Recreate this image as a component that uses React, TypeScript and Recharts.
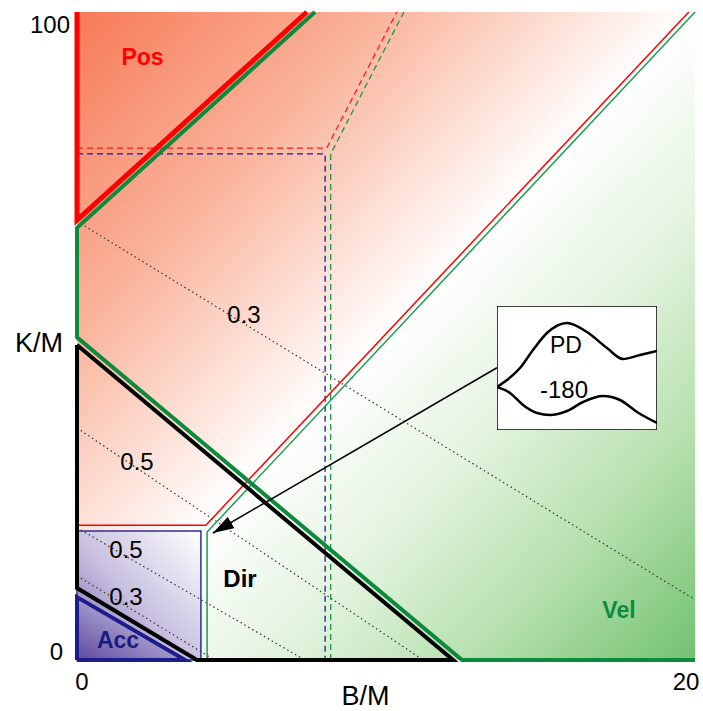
import { Area, ComposedChart, Line, LineChart, ReferenceArea, XAxis, YAxis } from "recharts";

// region boundaries, B/M on x, K/M on y
const redThick = [{ x: 0, y: 100 }, { x: 0, y: 67.9 }, { x: 7.44, y: 100 }];
const greenThick = [{ x: 7.7, y: 100 }, { x: 0, y: 66.7 }, { x: 0, y: 49.8 }, { x: 12.46, y: 0 }, { x: 20, y: 0 }];
const blackThick = [{ x: 0, y: 48.6 }, { x: 0, y: 11.1 }, { x: 3.88, y: 0 }, { x: 12.17, y: 0 }, { x: 0, y: 48.6 }];
const redThin = [{ x: 0, y: 20.8 }, { x: 4.17, y: 20.8 }, { x: 19.8, y: 100 }];
const greenThin = [{ x: 4.21, y: 0 }, { x: 4.21, y: 19.75 }, { x: 20, y: 100 }];
const redDash = [{ x: 0, y: 79 }, { x: 8.08, y: 79 }, { x: 10.35, y: 100 }];
const blueDash = [{ x: 0, y: 78.1 }, { x: 8.03, y: 78.1 }, { x: 8.03, y: 0 }];
const greenDash = [{ x: 8.21, y: 0 }, { x: 8.21, y: 78.1 }, { x: 10.58, y: 100 }];

// damping iso-lines
const iso03Upper = [{ x: 0, y: 67.7 }, { x: 20, y: 9.3 }];
const iso05Upper = [{ x: 0, y: 35.8 }, { x: 11.2, y: 0 }];
const iso05Lower = [{ x: 0, y: 20.4 }, { x: 7.38, y: 0 }];
const iso03Lower = [{ x: 0, y: 13.0 }, { x: 4.45, y: 0 }];

const accOutline = [{ x: 0, y: 0 }, { x: 0, y: 9.7 }, { x: 3.5, y: 0 }, { x: 0, y: 0 }];
const accFill = [{ x: 0, r: [0, 9.7] }, { x: 3.5, r: [0, 0] }];
const dirBox = { x1: 0, x2: 4.01, y1: 0, y2: 19.9 };
const arrow = [{ x: 13.59, y: 45.1 }, { x: 4.4, y: 19.6 }];

// inset sketch (local units)
const pdUpper = [
  { x: 0, y: 43 }, { x: 10, y: 50 }, { x: 23, y: 62 }, { x: 36, y: 80 }, { x: 50, y: 97 }, { x: 70, y: 107 },
  { x: 90, y: 98 }, { x: 110, y: 82 }, { x: 126, y: 71 }, { x: 143, y: 75 }, { x: 160, y: 79 }
];
const pdLower = [
  { x: 0, y: 43 }, { x: 13, y: 37 }, { x: 26, y: 25 }, { x: 40, y: 17 }, { x: 53, y: 15 }, { x: 70, y: 19 },
  { x: 86, y: 28 }, { x: 106, y: 34 }, { x: 123, y: 30 }, { x: 140, y: 18 }, { x: 160, y: 7 }
];

const xTicks = [0, 20];
const yTicks = [0, 100];

const FONT = "'Liberation Sans', Arial, sans-serif";

const XTick = ({ x, y, payload }: any) => (
  <text x={x + (payload.value === 0 ? 5 : -9)} y={y + 22} textAnchor="middle" fontSize={24} fill="#000" fontFamily={FONT}>
    {payload.value}
  </text>
);

const YTick = ({ x, y, payload }: any) => (
  <text x={payload.value === 0 ? x - 6 : x + 1} y={payload.value === 0 ? y : y + 21} textAnchor="end" fontSize={24} fill="#000" fontFamily={FONT}>
    {payload.value}
  </text>
);

const lineProps = { type: "linear" as const, dataKey: "y", dot: false, activeDot: false, isAnimationActive: false };

const overlay: React.CSSProperties = { position: "absolute", left: 0, top: 0, pointerEvents: "none" };

export default function App() {
  return (
    <div style={{ position: "absolute", left: 0, top: 0, width: 703, height: 711, background: "#fff", fontFamily: FONT }}>
      <ComposedChart width={703} height={711} margin={{ top: 12, right: 8, bottom: 0, left: 0 }}>
        <defs>
          <linearGradient id="bg" x1="0" y1="0" x2="1" y2="1">
            <stop offset="0" stopColor="#f77a58" />
            <stop offset="0.25" stopColor="#fab49c" />
            <stop offset="0.5" stopColor="#ffffff" />
            <stop offset="0.65" stopColor="#e4f4e0" />
            <stop offset="0.82" stopColor="#b6e0ae" />
            <stop offset="1" stopColor="#72c270" />
          </linearGradient>
          <linearGradient id="boxGrad" x1="0" y1="1" x2="1" y2="0">
            <stop offset="0" stopColor="#7262ae" />
            <stop offset="0.45" stopColor="#c6bede" />
            <stop offset="1" stopColor="#ffffff" />
          </linearGradient>
          <linearGradient id="accGrad" x1="0" y1="1" x2="1" y2="0">
            <stop offset="0" stopColor="#5c4a9e" />
            <stop offset="0.55" stopColor="#a89ecf" />
            <stop offset="1" stopColor="#ece8f4" />
          </linearGradient>
          <marker id="arrowHead" viewBox="0 0 10 10" refX="10" refY="5" markerUnits="userSpaceOnUse" markerWidth="21" markerHeight="13" orient="auto" preserveAspectRatio="none">
            <path d="M0,0 L10,5 L0,10 z" fill="#000" />
          </marker>
        </defs>
        <XAxis type="number" dataKey="x" domain={[0, 20]} ticks={xTicks} height={51} axisLine={false} tickLine={false} tick={<XTick />} />
        <YAxis type="number" domain={[0, 100]} ticks={yTicks} width={77} axisLine={false} tickLine={false} tick={<YTick />} />

        <ReferenceArea x1={0} x2={20} y1={0} y2={100} fill="url(#bg)" fillOpacity={1} stroke="none" />
        <ReferenceArea {...dirBox} fill="url(#boxGrad)" fillOpacity={1} stroke="#2e2e96" strokeWidth={1.5} />
        <Area data={accFill} type="linear" dataKey="r" fill="url(#accGrad)" fillOpacity={1} stroke="none" dot={false} activeDot={false} isAnimationActive={false} />

        <Line {...lineProps} data={iso03Upper} stroke="#333" strokeWidth={1.2} strokeDasharray="1.5 3" />
        <Line {...lineProps} data={iso05Upper} stroke="#333" strokeWidth={1.2} strokeDasharray="1.5 3" />
        <Line {...lineProps} data={iso05Lower} stroke="#333" strokeWidth={1.2} strokeDasharray="1.5 3" />
        <Line {...lineProps} data={iso03Lower} stroke="#333" strokeWidth={1.2} strokeDasharray="1.5 3" />

        <Line {...lineProps} data={redDash} stroke="#ff1a1a" strokeWidth={1.3} strokeDasharray="6 4" />
        <Line {...lineProps} data={blueDash} stroke="#1a1a9a" strokeWidth={1.3} strokeDasharray="6 4" />
        <Line {...lineProps} data={greenDash} stroke="#18964a" strokeWidth={1.3} strokeDasharray="6 4" />

        <Line {...lineProps} data={redThin} stroke="#ff0000" strokeWidth={1.5} />
        <Line {...lineProps} data={greenThin} stroke="#1f9a50" strokeWidth={1.5} />

        <Line {...lineProps} data={blackThick} stroke="#000" strokeWidth={4} strokeLinejoin="miter" />
        <Line {...lineProps} data={greenThick} stroke="#0e8a3c" strokeWidth={4} />
        <Line {...lineProps} data={redThick} stroke="#ff0000" strokeWidth={5} />
        <Line {...lineProps} data={accOutline} stroke="#1c1c8c" strokeWidth={4} />

        <Line {...lineProps} data={arrow} stroke="#000" strokeWidth={1.5} markerEnd="url(#arrowHead)" />
      </ComposedChart>

      <svg width={703} height={711} style={overlay}>
        <g fontFamily={FONT} textAnchor="middle">
          <text x={142.5} y={65} fontSize={23} fontWeight="bold" fill="#ff0000">Pos</text>
          <text x={240} y={587} fontSize={24} fontWeight="bold" fill="#000">Dir</text>
          <text x={118} y={648} fontSize={23} fontWeight="bold" fill="#1a1a80">Acc</text>
          <text x={619} y={618} fontSize={23} fontWeight="bold" fill="#0e8a3c">Vel</text>
          <text x={244} y={323} fontSize={24} fill="#000">0.3</text>
          <text x={137} y={470} fontSize={24} fill="#000">0.5</text>
          <text x={126} y={558} fontSize={24} fill="#000">0.5</text>
          <text x={126} y={605} fontSize={24} fill="#000">0.3</text>
          <text x={39} y={352} fontSize={27} fill="#000">K/M</text>
          <text x={365.5} y={705} fontSize={27} fill="#000">B/M</text>
        </g>
      </svg>

      <div style={{ position: "absolute", left: 497, top: 306, width: 160, height: 124 }}>
        <LineChart width={160} height={124} margin={{ top: 0, right: 0, bottom: 0, left: 0 }}>
          <XAxis type="number" dataKey="x" domain={[0, 160]} hide />
          <YAxis type="number" domain={[0, 124]} hide />
          <ReferenceArea x1={0} x2={160} y1={0} y2={124} fill="#fff" fillOpacity={1} stroke="#000" strokeWidth={1.5} />
          <Line type="monotone" dataKey="y" data={pdUpper} stroke="#000" strokeWidth={2.5} dot={false} activeDot={false} isAnimationActive={false} />
          <Line type="monotone" dataKey="y" data={pdLower} stroke="#000" strokeWidth={2.5} dot={false} activeDot={false} isAnimationActive={false} />
        </LineChart>
        <svg width={160} height={124} style={overlay}>
          <g fontFamily={FONT} textAnchor="middle" fill="#000">
            <text x={69} y={47} fontSize={23}>PD</text>
            <text x={67} y={92} fontSize={24}>-180</text>
          </g>
        </svg>
      </div>
    </div>
  );
}
